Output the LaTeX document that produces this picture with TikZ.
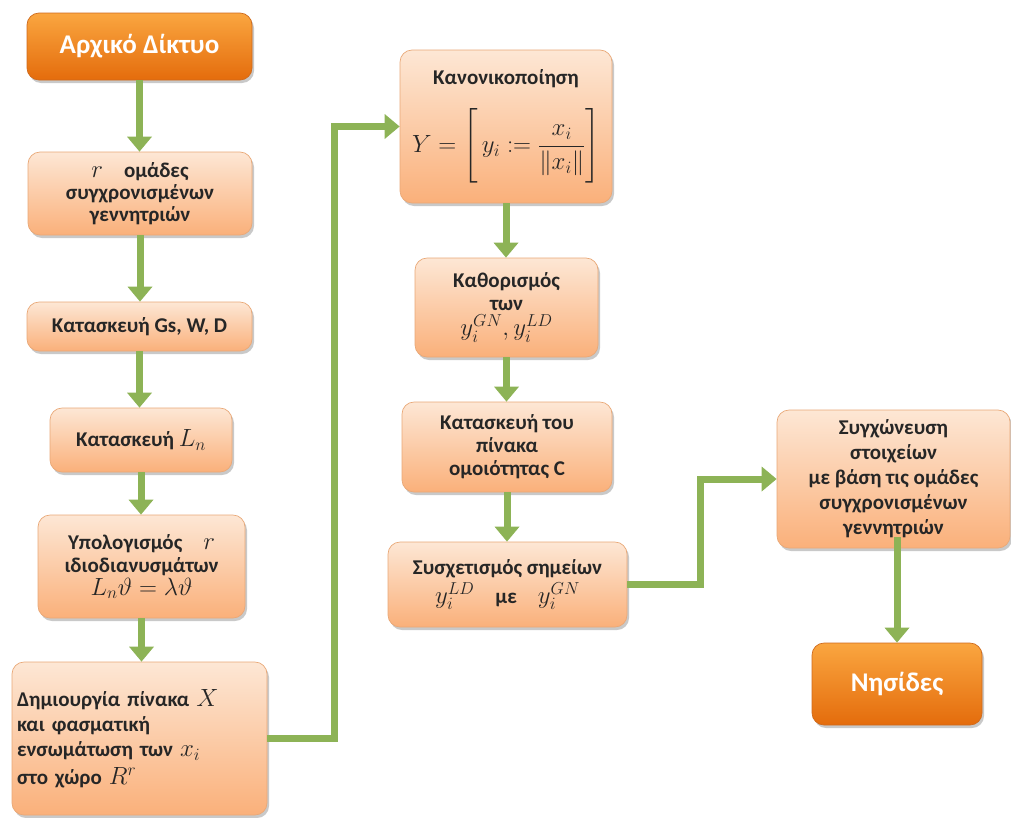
\documentclass[tikz,border=0pt]{standalone}
\usepackage{amsmath}
\usepackage{fontspec}
\setmainfont{Carlito}
\usetikzlibrary{arrows.meta,shadows}

\definecolor{boxtop}{HTML}{FDE7D5}
\definecolor{boxbot}{HTML}{FAB07A}
\definecolor{boxline}{HTML}{E9A877}
\definecolor{endtop}{HTML}{FAA640}
\definecolor{endbot}{HTML}{E46C0C}
\definecolor{endline}{HTML}{CF6A1C}
\definecolor{flowgreen}{HTML}{8DB356}
\definecolor{inktext}{HTML}{262626}

% larger serif maths inside the boxes
\newcommand{\mth}[1]{{\fontsize{25}{23}\selectfont$#1$}}

\tikzset{
  stepbox/.style={rounded corners=12pt, draw=boxline, line width=0.7pt,
    top color=boxtop, bottom color=boxbot,
    drop shadow={shadow xshift=2pt, shadow yshift=-3pt, opacity=0.3, fill=black!70},
    text=inktext, align=center, inner sep=3pt,
    font=\bfseries\fontsize{21}{23}\selectfont},
  endbox/.style={stepbox, top color=endtop, bottom color=endbot, draw=endline,
    text=white, font=\bfseries\fontsize{27}{30}\selectfont},
  flow/.style={draw=flowgreen, line width=7pt,
    -{Triangle[width=24pt,length=15pt]}},
}

\begin{document}
\begin{tikzpicture}[x=1pt, y=-1pt]
\useasboundingbox (0,0) rectangle (1011,817);

% left column
\node[endbox, minimum width=225pt, minimum height=67pt] (start) at (139.5,46.5) {Αρχικό Δίκτυο};
\node[stepbox, minimum width=224pt, minimum height=83pt, font=\bfseries\fontsize{21}{22}\selectfont]
  (groups) at (140,193.5)
  {\mth{r}\quad ομάδες\\συγχρονισμένων\\γεννητριών};
\node[stepbox, minimum width=225pt, minimum height=49pt] (graph) at (139.5,326.5) {Κατασκευή Gs, W, D};
\node[stepbox, minimum width=182pt, minimum height=64pt] (lap) at (141,440) {Κατασκευή \mth{L_n}};
\node[stepbox, minimum width=207pt, minimum height=103pt] (eig) at (141.5,566.5)
  {Υπολογισμός\quad\mth{r}\\ιδιοδιανυσμάτων\\\mth{L_n\vartheta=\lambda\vartheta}};
\node[stepbox, minimum width=255pt, minimum height=153pt, text width=245pt,
  align=left, inner xsep=5pt, font=\bfseries\fontsize{21}{25}\selectfont] (embed) at (139.5,738.5)
  {Δημιουργία πίνακα \mth{X}\\και φασματική\\ενσωμάτωση των \mth{x_i}\\[3pt]στο χώρο \mth{R^r}};

% middle column
\node[stepbox, minimum width=212pt, minimum height=153pt] (norm) at (506,126.5)
  {Κανονικοποίηση\\[20pt]\mth{Y=\left[\rule[-30pt]{0pt}{72pt}\,y_i:=\dfrac{x_i}{\lVert x_i\rVert}\right]}};
\node[stepbox, minimum width=183pt, minimum height=99pt] (sel) at (506.5,307.5)
  {Καθορισμός\\των\\[2pt]\mth{y_i^{GN},y_i^{LD}}};
\node[stepbox, minimum width=210pt, minimum height=90pt] (sim) at (507,447)
  {Κατασκευή του\\πίνακα\\ομοιότητας C};
\node[stepbox, minimum width=239pt, minimum height=85pt] (match) at (507.5,584.5)
  {Συσχετισμός σημείων\\[4pt]\mth{y_i^{LD}}\quad με\quad\mth{y_i^{GN}}};

% right column
\node[stepbox, minimum width=233pt, minimum height=138pt,
  font=\bfseries\fontsize{21}{25}\selectfont] (merge) at (893.5,479)
  {Συγχώνευση\\στοιχείων\\με βάση τις ομάδες\\συγχρονισμένων\\γεννητριών};
\node[endbox, minimum width=170pt, minimum height=82pt] (islands) at (897,684) {Νησίδες};

% connectors
\draw[flow] (start.south) -- (start.south |- groups.north);
\draw[flow] (groups.south) -- (groups.south |- graph.north);
\draw[flow] (graph.south) -- (graph.south |- lap.north);
\draw[flow] (lap.south) -- (lap.south |- eig.north);
\draw[flow] (eig.south) -- (eig.south |- embed.north);

\coordinate (jogA) at (334,0);
\draw[flow] (embed.east) -| (jogA |- norm.west) -- (norm.west);

\draw[flow] (norm.south) -- (norm.south |- sel.north);
\draw[flow] (sel.south) -- (sel.south |- sim.north);
\draw[flow] (sim.south) -- (sim.south |- match.north);

\coordinate (jogB) at (700,0);
\draw[flow] (match.east) -| (jogB |- merge.west) -- (merge.west);

\draw[flow, shorten <=-11pt] (islands.north |- merge.south) -- (islands.north);
\end{tikzpicture}
\end{document}
